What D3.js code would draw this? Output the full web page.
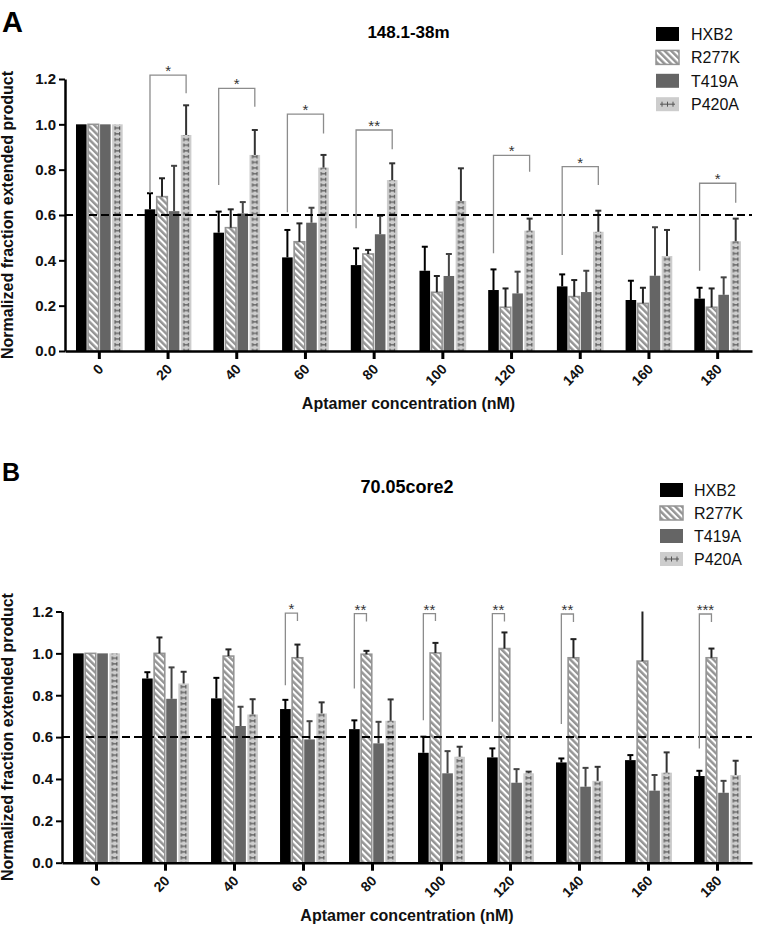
<!DOCTYPE html>
<html>
<head>
<meta charset="utf-8">
<script src="https://cdn.jsdelivr.net/npm/d3@7"></script>
<style>
  body { margin: 0; background: #fff; }
  text { font-family: 'Liberation Sans', Arial, sans-serif; }
</style>
</head>
<body>
<div class="canvas"></div>
<script>
const categories = ['0', '20', '40', '60', '80', '100', '120', '140', '160', '180']
const series = ['HXB2', 'R277K', 'T419A', 'P420A']
const yTicks = [0, 0.2, 0.4, 0.6, 0.8, 1.0, 1.2]
const threshold = 0.6

// panel A: 148.1-38m (mean and upper SD)
const aHXB2 = [1.0, 0.625, 0.522, 0.413, 0.379, 0.354, 0.269, 0.285, 0.225, 0.231]
const aHXB2Sd = [0, 0.071, 0.093, 0.121, 0.074, 0.106, 0.091, 0.053, 0.085, 0.048]
const aR277K = [1.0, 0.681, 0.544, 0.482, 0.428, 0.259, 0.193, 0.240, 0.210, 0.193]
const aR277KSd = [0, 0.081, 0.081, 0.081, 0.018, 0.072, 0.083, 0.073, 0.069, 0.083]
const aT419A = [1.0, 0.617, 0.607, 0.566, 0.515, 0.331, 0.254, 0.260, 0.332, 0.248]
const aT419ASd = [0, 0.200, 0.050, 0.066, 0.081, 0.097, 0.096, 0.094, 0.214, 0.077]
const aP420A = [1.0, 0.953, 0.865, 0.809, 0.754, 0.662, 0.531, 0.526, 0.419, 0.484]
const aP420ASd = [0, 0.131, 0.110, 0.056, 0.074, 0.144, 0.053, 0.093, 0.115, 0.100]
// significance brackets: left leg bottom, top, right leg bottom
const aBrackets = [
  { cat: '20', from: 'HXB2', to: 'P420A', lo: 0.697, top: 1.217, ro: 1.137, label: '*' },
  { cat: '40', from: 'HXB2', to: 'P420A', lo: 0.732, top: 1.159, ro: 1.078, label: '*' },
  { cat: '60', from: 'HXB2', to: 'P420A', lo: 0.612, top: 1.045, ro: 0.960, label: '*' },
  { cat: '80', from: 'HXB2', to: 'P420A', lo: 0.541, top: 0.975, ro: 0.890, label: '**' },
  { cat: '120', from: 'HXB2', to: 'P420A', lo: 0.431, top: 0.863, ro: 0.791, label: '*' },
  { cat: '140', from: 'HXB2', to: 'P420A', lo: 0.423, top: 0.813, ro: 0.732, label: '*' },
  { cat: '180', from: 'HXB2', to: 'P420A', lo: 0.354, top: 0.740, ro: 0.654, label: '*' }
]

// panel B: 70.05core2
const bHXB2 = [1.0, 0.880, 0.785, 0.734, 0.638, 0.525, 0.503, 0.479, 0.490, 0.414]
const bHXB2Sd = [0, 0.030, 0.098, 0.044, 0.042, 0.077, 0.043, 0.019, 0.024, 0.025]
const bR277K = [1.0, 1.0, 0.987, 0.979, 0.996, 1.002, 1.023, 0.979, 0.963, 0.979]
const bR277KSd = [0, 0.076, 0.032, 0.063, 0.016, 0.048, 0.077, 0.089, 0.240, 0.044]
const bT419A = [1.0, 0.783, 0.653, 0.589, 0.570, 0.427, 0.382, 0.363, 0.344, 0.334]
const bT419ASd = [0, 0.150, 0.092, 0.087, 0.103, 0.106, 0.065, 0.090, 0.075, 0.057]
const bP420A = [1.0, 0.856, 0.708, 0.713, 0.678, 0.506, 0.427, 0.391, 0.430, 0.419]
const bP420ASd = [0, 0.056, 0.073, 0.053, 0.102, 0.048, 0.008, 0.067, 0.097, 0.068]
const bBrackets = [
  { cat: '60', from: 'HXB2', to: 'R277K', lo: 0.848, top: 1.192, ro: 1.155, label: '*' },
  { cat: '80', from: 'HXB2', to: 'R277K', lo: 0.832, top: 1.190, ro: 1.152, label: '**' },
  { cat: '100', from: 'HXB2', to: 'R277K', lo: 0.681, top: 1.190, ro: 1.155, label: '**' },
  { cat: '120', from: 'HXB2', to: 'R277K', lo: 0.673, top: 1.190, ro: 1.152, label: '**' },
  { cat: '140', from: 'HXB2', to: 'R277K', lo: 0.662, top: 1.188, ro: 1.150, label: '**' },
  { cat: '180', from: 'HXB2', to: 'R277K', lo: 0.546, top: 1.188, ro: 1.150, label: '***' }
]

const svg = d3.select('.canvas').append('svg')
  .attr('width', 757)
  .attr('height', 925)

const defs = svg.append('defs')

// diagonal hatch for R277K
const hatch = defs.append('pattern')
  .attr('id', 'hatch')
  .attr('patternUnits', 'userSpaceOnUse')
  .attr('width', 4.6)
  .attr('height', 4.6)
  .attr('patternTransform', 'rotate(-45)')
hatch.append('rect').attr('width', 4.6).attr('height', 4.6).attr('fill', '#fff')
hatch.append('rect').attr('width', 2.5).attr('height', 4.6).attr('fill', '#949494')

const fills = { HXB2: '#000', R277K: 'url(#hatch)', T419A: '#656565', P420A: '#cdcdcd' }
const errColors = { HXB2: '#000', R277K: '#222', T419A: '#444', P420A: '#333' }

const drawPanel = (p) => {
  const g = svg.append('g')

  const x = d3.scaleBand()
    .domain(categories)
    .range([p.left, p.right])

  const inner = d3.scaleBand()
    .domain(series)
    .range([x.bandwidth() * 0.16, x.bandwidth() * 0.84])
    .paddingInner(0.12)

  const y = d3.scaleLinear()
    .domain([0, 1.2])
    .range([p.bottom, p.top])

  const bw = inner.bandwidth()

  // "H" marks pattern for P420A, one tile per category step
  const hp = defs.append('pattern')
    .attr('id', 'hmark' + p.key)
    .attr('patternUnits', 'userSpaceOnUse')
    .attr('x', x(categories[0]) + inner('P420A'))
    .attr('width', x.step())
    .attr('height', 5.7)
  hp.append('rect').attr('width', x.step()).attr('height', 5.7).attr('fill', fills.P420A)
  const cx = bw / 2
  hp.append('path')
    .attr('d', `M${cx - 2.3},1V4.6M${cx + 2.3},1V4.6M${cx - 2.3},2.8H${cx + 2.3}`)
    .attr('stroke', '#555')
    .attr('stroke-width', 1.1)
    .attr('fill', 'none')

  const fillOf = s => s === 'P420A' ? `url(#hmark${p.key})` : fills[s]

  const rows = []
  categories.forEach((c, i) => {
    series.forEach((s, j) => {
      rows.push({ cat: c, s, v: p.values[j][i], sd: p.sds[j][i] })
    })
  })

  // bars
  g.selectAll('rect.bar')
    .data(rows)
    .enter().append('rect')
    .attr('class', 'bar')
    .attr('x', d => x(d.cat) + inner(d.s))
    .attr('y', d => y(d.v))
    .attr('width', bw)
    .attr('height', d => y(0) - y(d.v))
    .attr('fill', d => fillOf(d.s))
    .attr('stroke', d => d.s === 'R277K' ? '#949494' : 'none')
    .attr('stroke-width', 1.6)

  // error bars (upper only)
  const errs = rows.filter(d => d.sd > 0)
  g.selectAll('line.err')
    .data(errs)
    .enter().append('line')
    .attr('class', 'err')
    .attr('x1', d => x(d.cat) + inner(d.s) + bw / 2)
    .attr('x2', d => x(d.cat) + inner(d.s) + bw / 2)
    .attr('y1', d => y(d.v))
    .attr('y2', d => y(Math.min(d.v + d.sd, 1.2)))
    .attr('stroke', d => errColors[d.s])
    .attr('stroke-width', 2)

  g.selectAll('line.cap')
    .data(errs.filter(d => d.v + d.sd <= 1.2))
    .enter().append('line')
    .attr('class', 'cap')
    .attr('x1', d => x(d.cat) + inner(d.s) + bw / 2 - 3)
    .attr('x2', d => x(d.cat) + inner(d.s) + bw / 2 + 3)
    .attr('y1', d => y(d.v + d.sd))
    .attr('y2', d => y(d.v + d.sd))
    .attr('stroke', d => errColors[d.s])
    .attr('stroke-width', 2)

  // threshold line
  g.append('line')
    .attr('x1', p.left)
    .attr('x2', p.right)
    .attr('y1', y(threshold))
    .attr('y2', y(threshold))
    .attr('stroke', '#000')
    .attr('stroke-width', 2)
    .attr('stroke-dasharray', '8,4')

  // significance brackets
  const bx = (c, s) => x(c) + inner(s) + bw / 2
  g.selectAll('path.br')
    .data(p.brackets)
    .enter().append('path')
    .attr('class', 'br')
    .attr('d', d => `M${bx(d.cat, d.from)},${y(d.lo)}V${y(d.top)}H${bx(d.cat, d.to)}V${y(d.ro)}`)
    .attr('fill', 'none')
    .attr('stroke', '#8c8c8c')
    .attr('stroke-width', 1.3)

  g.selectAll('text.star')
    .data(p.brackets)
    .enter().append('text')
    .attr('class', 'star')
    .attr('x', d => (bx(d.cat, d.from) + bx(d.cat, d.to)) / 2)
    .attr('y', d => y(d.top) + 1)
    .attr('text-anchor', 'middle')
    .attr('font-size', 15)
    .attr('fill', '#333')
    .text(d => d.label)

  // axes
  const yAxis = d3.axisLeft(y)
    .tickValues(yTicks)
    .tickFormat(d3.format('.1f'))
    .tickSize(6)
    .tickPadding(3)
    .tickSizeOuter(0)

  const yAxisGroup = g.append('g')
    .attr('transform', `translate(${p.left},0)`)
    .call(yAxis)
  yAxisGroup.select('.domain').attr('stroke-width', 2.5)
  yAxisGroup.selectAll('.tick line').attr('stroke-width', 2)
  yAxisGroup.selectAll('.tick text')
    .attr('font-size', 15)
    .attr('font-weight', 'bold')
    .attr('fill', '#111')
    .style('font-family', "'Liberation Sans', Arial, sans-serif")

  const xAxis = d3.axisBottom(x)
    .tickSize(8)
    .tickSizeOuter(0)

  const xAxisGroup = g.append('g')
    .attr('transform', `translate(0,${p.bottom})`)
    .call(xAxis)
  xAxisGroup.select('.domain').attr('stroke-width', 2.5)
  xAxisGroup.selectAll('.tick line').attr('stroke-width', 3)
  xAxisGroup.selectAll('.tick text')
    .attr('x', 0)
    .attr('y', 0)
    .attr('dy', null)
    .attr('text-anchor', 'end')
    .attr('transform', 'translate(5,19) rotate(-45)')
    .attr('font-size', 14)
    .attr('font-weight', 'bold')
    .attr('fill', '#111')
    .style('font-family', "'Liberation Sans', Arial, sans-serif")

  // titles
  const midX = (p.left + p.right) / 2
  g.append('text')
    .attr('x', midX)
    .attr('y', p.titleY)
    .attr('text-anchor', 'middle')
    .attr('font-size', p.titleSize)
    .attr('font-weight', 'bold')
    .text(p.title)

  g.append('text')
    .attr('x', 2)
    .attr('y', p.letterY)
    .attr('font-size', p.letterSize)
    .attr('font-weight', 'bold')
    .text(p.letter)

  g.append('text')
    .attr('x', midX)
    .attr('y', p.bottom + 58)
    .attr('text-anchor', 'middle')
    .attr('font-size', 16)
    .attr('font-weight', 'bold')
    .attr('fill', '#111')
    .text('Aptamer concentration (nM)')

  g.append('text')
    .attr('transform', `translate(13,${(p.top + p.bottom) / 2}) rotate(-90)`)
    .attr('text-anchor', 'middle')
    .attr('font-size', 16)
    .attr('font-weight', 'bold')
    .attr('fill', '#111')
    .text('Normalized fraction extended product')

  // legend
  const leg = g.append('g')
    .attr('transform', `translate(${p.legX},${p.legY})`)
  series.forEach((s, i) => {
    const row = leg.append('g').attr('transform', `translate(0,${i * p.legStep})`)
    row.append('rect')
      .attr('width', 23)
      .attr('height', 14)
      .attr('fill', s === 'P420A' ? fills.P420A : fills[s])
      .attr('stroke', s === 'R277K' ? '#949494' : 'none')
      .attr('stroke-width', 1.5)
    if (s === 'P420A') {
      row.append('path')
        .attr('d', 'M4,7H19M6,4.5V9.5M11.5,4.5V9.5M17,4.5V9.5')
        .attr('stroke', '#555')
        .attr('stroke-width', 1)
    }
    row.append('text')
      .attr('x', p.legText)
      .attr('y', 13)
      .attr('font-size', 16)
      .attr('fill', '#111')
      .text(s)
  })
}

drawPanel({
  key: 'A', letter: 'A', letterY: 32, letterSize: 29,
  title: '148.1-38m', titleY: 38, titleSize: 17,
  left: 65, right: 752, top: 79, bottom: 351,
  values: [aHXB2, aR277K, aT419A, aP420A],
  sds: [aHXB2Sd, aR277KSd, aT419ASd, aP420ASd],
  brackets: aBrackets,
  legX: 656, legY: 27, legStep: 23.4, legText: 35
})

drawPanel({
  key: 'B', letter: 'B', letterY: 481, letterSize: 25,
  title: '70.05core2', titleY: 493, titleSize: 18,
  left: 62, right: 752, top: 611.5, bottom: 862.7,
  values: [bHXB2, bR277K, bT419A, bP420A],
  sds: [bHXB2Sd, bR277KSd, bT419ASd, bP420ASd],
  brackets: bBrackets,
  legX: 660, legY: 483, legStep: 23, legText: 34
})
</script>
</body>
</html>
